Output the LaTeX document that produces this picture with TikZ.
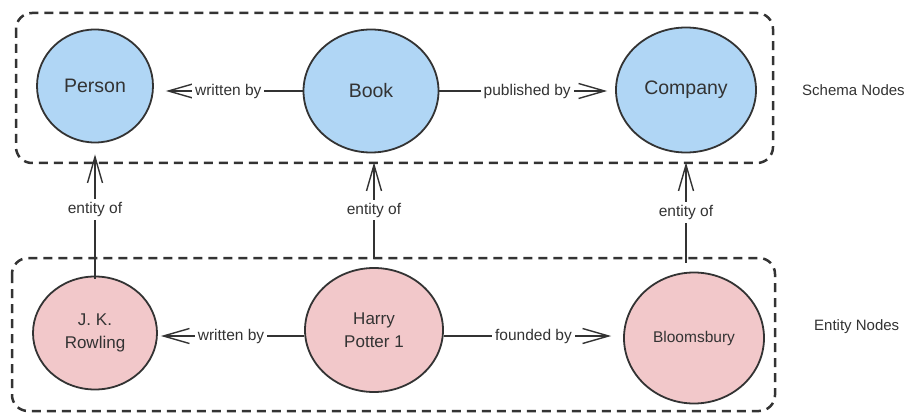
\documentclass[tikz,border=0pt]{standalone}
\usepackage{fontspec}
\setmainfont{Liberation Sans}
\usetikzlibrary{shapes.geometric,arrows.meta}
\definecolor{schemafill}{HTML}{B0D6F5}
\definecolor{entityfill}{HTML}{F2C8CA}
\definecolor{ink}{HTML}{333333}
\begin{document}
\begin{tikzpicture}[x=1pt,y=-1pt,
  schemanode/.style={ellipse, draw=ink, line width=1.8pt, fill=schemafill, inner sep=0pt, font=\fontsize{19.5}{23}\selectfont, text=ink},
  entitynode/.style={ellipse, draw=ink, line width=1.8pt, fill=entityfill, inner sep=0pt, align=center, font=\fontsize{17}{23}\selectfont, text=ink},
  rel/.style={draw=ink, line width=1.4pt, -{Straight Barb[length=26pt,width=15pt,line width=1.4pt,line join=miter]}},
  lbl/.style={fill=white, inner sep=3pt, font=\fontsize{15.5}{18}\selectfont, text=ink},
  group/.style={draw=ink, line width=2.5pt, dash pattern=on 9pt off 6pt, rounded corners=16pt},
  side/.style={font=\fontsize{15}{18}\selectfont, text=ink, anchor=west, inner sep=0pt}]
\useasboundingbox[fill=white] (0,0) rectangle (912,414);

% group frames
\draw[group] (16,13) rectangle (773,163);
\draw[group] (12,258) rectangle (775,411);

% schema nodes
\node[schemanode, minimum width=116pt, minimum height=113pt] (person) at (95,86) {Person};
\node[schemanode, minimum width=135pt, minimum height=123pt] (book) at (371,91) {Book};
\node[schemanode, minimum width=140pt, minimum height=125pt] (company) at (686,90) {Company};

% entity nodes
\node[entitynode, minimum width=124pt, minimum height=113pt] (jk) at (95,333) {J. K.\\Rowling};
\node[entitynode, minimum width=138pt, minimum height=124pt] (hp) at (374,330) {Harry\\Potter 1};
\node[entitynode, minimum width=140pt, minimum height=131pt, font=\fontsize{15.5}{18}\selectfont] (bloom) at (694,338) {Bloomsbury};

% side labels
\node[side] (schemalbl) at (802,90) {Schema Nodes};
\node[side] (entitylbl) at (814,327) {Entity Nodes};

% schema relations
\draw[rel, shorten >=12pt] (book.west) -- (book.west -| person.east) node[lbl, midway] (wb1) {written by};
\draw[rel, shorten >=8pt] (book.east) -- (book.east -| company.west) node[lbl, midway] (pb) {published by};

% entity relations
\draw[rel, shorten >=3pt] ([yshift=-6pt]hp.west) -- ([yshift=-6pt]hp.west -| jk.east) node[lbl, midway] (wb2) {written by};
\draw[rel, shorten >=12pt] ([yshift=-6pt]hp.east) -- ([yshift=-6pt]hp.east -| bloom.west) node[lbl, midway] (fb) {founded by};

% entity-of relations
\draw[rel, shorten >=11pt, shorten <=-3pt] (jk.north) -- (jk.north |- person.south) node[lbl, midway] (e1) {entity of};
\draw[rel, shorten >=9pt, shorten <=8pt] (hp.north) -- (hp.north |- book.south) node[lbl, midway] (e2) {entity of};
\draw[rel, shorten >=9pt, shorten <=9pt] (bloom.north -| company.south) -- (company.south) node[lbl, midway] (e3) {entity of};
\end{tikzpicture}
\end{document}
